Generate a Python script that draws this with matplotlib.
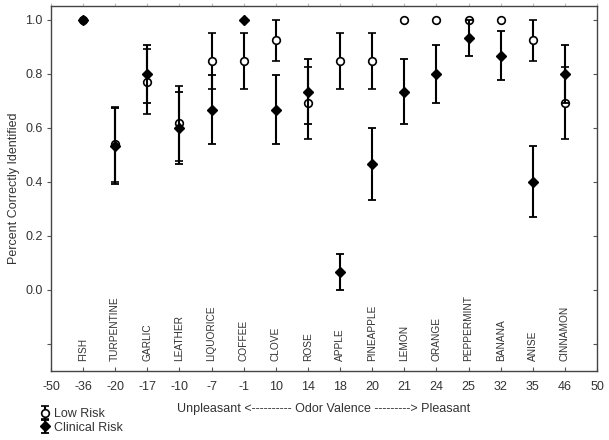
import numpy as np
import matplotlib.pyplot as plt

plt.rcParams['font.family'] = ['Liberation Sans', 'DejaVu Sans']

odors = ['FISH', 'TURPENTINE', 'GARLIC', 'LEATHER', 'LIQUORICE', 'COFFEE', 'CLOVE', 'ROSE',
         'APPLE', 'PINEAPPLE', 'LEMON', 'ORANGE', 'PEPPERMINT', 'BANANA', 'ANISE', 'CINNAMON']
valence_labels = ['-50', '-36', '-20', '-17', '-10', '-7', '-1', '10', '14', '18', '20',
                  '21', '24', '25', '32', '35', '46', '50']

low_risk = [1.0, 0.538, 0.770, 0.616, 0.846, 0.846, 0.923, 0.692,
            0.846, 0.846, 1.0, 1.0, 1.0, 1.0, 0.923, 0.692]
low_risk_err = [0.0, 0.140, 0.120, 0.140, 0.104, 0.104, 0.077, 0.133,
                0.104, 0.104, 0.0, 0.0, 0.0, 0.0, 0.077, 0.133]
clinical = [1.0, 0.533, 0.800, 0.600, 0.667, 1.0, 0.667, 0.733,
            0.067, 0.467, 0.733, 0.800, 0.933, 0.867, 0.400, 0.800]
clinical_err = [0.0, 0.140, 0.107, 0.133, 0.127, 0.0, 0.127, 0.120,
                0.067, 0.133, 0.120, 0.107, 0.067, 0.090, 0.131, 0.107]

text_color = '#333333'
x = np.arange(1, len(odors) + 1)
yticks = [-0.2, 0.0, 0.2, 0.4, 0.6, 0.8, 1.0]

fig = plt.figure(figsize=(6.09, 4.40), dpi=100)
ax = fig.add_axes([0.0837, 0.1568, 0.8966, 0.8295])

lr_err = np.array(low_risk_err)
cl_err = np.array(clinical_err)
h1 = ax.errorbar(x, low_risk, yerr=np.where(lr_err > 0, lr_err, np.nan), fmt='o',
                 color='black', mfc='white', mec='black', ms=5.5, mew=1.2,
                 elinewidth=1.5, capsize=2.6, capthick=1.3, label='Low Risk', zorder=3)
h2 = ax.errorbar(x, clinical, yerr=np.where(cl_err > 0, cl_err, np.nan), fmt='D',
                 color='black', ms=5, elinewidth=1.5, capsize=2.6, capthick=1.3,
                 label='Clinical Risk', zorder=4)

# odor names written inside the plot, below zero
for xi, name in zip(x, odors):
    ax.text(xi, -0.262, name, rotation=90, ha='center', va='bottom',
            fontsize=7.3, color=text_color)

ax.set_xlim(0, len(valence_labels) - 1)
ax.set_ylim(-0.30, 1.05)
ax.set_xticks(np.arange(len(valence_labels)))
ax.set_xticklabels(valence_labels, fontsize=9, color=text_color)
ax.set_yticks(yticks)
ax.set_yticklabels(['', '0.0', '0.2', '0.4', '0.6', '0.8', '1.0'], fontsize=9, color=text_color)
ax.tick_params(axis='x', direction='in', length=3, color='#555555', pad=7.5)
ax.tick_params(axis='y', direction='out', length=3, color='#555555', pad=3)
ax.set_ylabel('Percent Correctly Identified', fontsize=9, color=text_color, labelpad=4)
ax.set_xlabel('Unpleasant <---------- Odor Valence ---------> Pleasant',
              fontsize=9, color=text_color)
ax.xaxis.set_label_coords(0.5, -0.088)

for s in ax.spines.values():
    s.set_color('#444444')
    s.set_linewidth(1.0)

# small ticks on top (outward, faint) and right (inward)
ax_top = ax.secondary_xaxis('top')
ax_top.set_xticks(np.arange(len(valence_labels)))
ax_top.set_xticklabels([])
ax_top.tick_params(direction='out', length=2, color='#bbbbbb')
ax_top.spines['top'].set_visible(False)
ax_right = ax.secondary_yaxis('right')
ax_right.set_yticks(yticks)
ax_right.set_yticklabels([])
ax_right.tick_params(direction='in', length=3, color='#555555')
ax_right.spines['right'].set_visible(False)

fig.legend(handles=[h1, h2], labels=['Low Risk', 'Clinical Risk'], loc='upper left',
           bbox_to_anchor=(0.068, 0.073), frameon=False, fontsize=9, handlelength=0.6,
           handletextpad=0.4, labelspacing=0.15, borderpad=0, borderaxespad=0,
           labelcolor=text_color)

fig.savefig('out.png', dpi=100)
